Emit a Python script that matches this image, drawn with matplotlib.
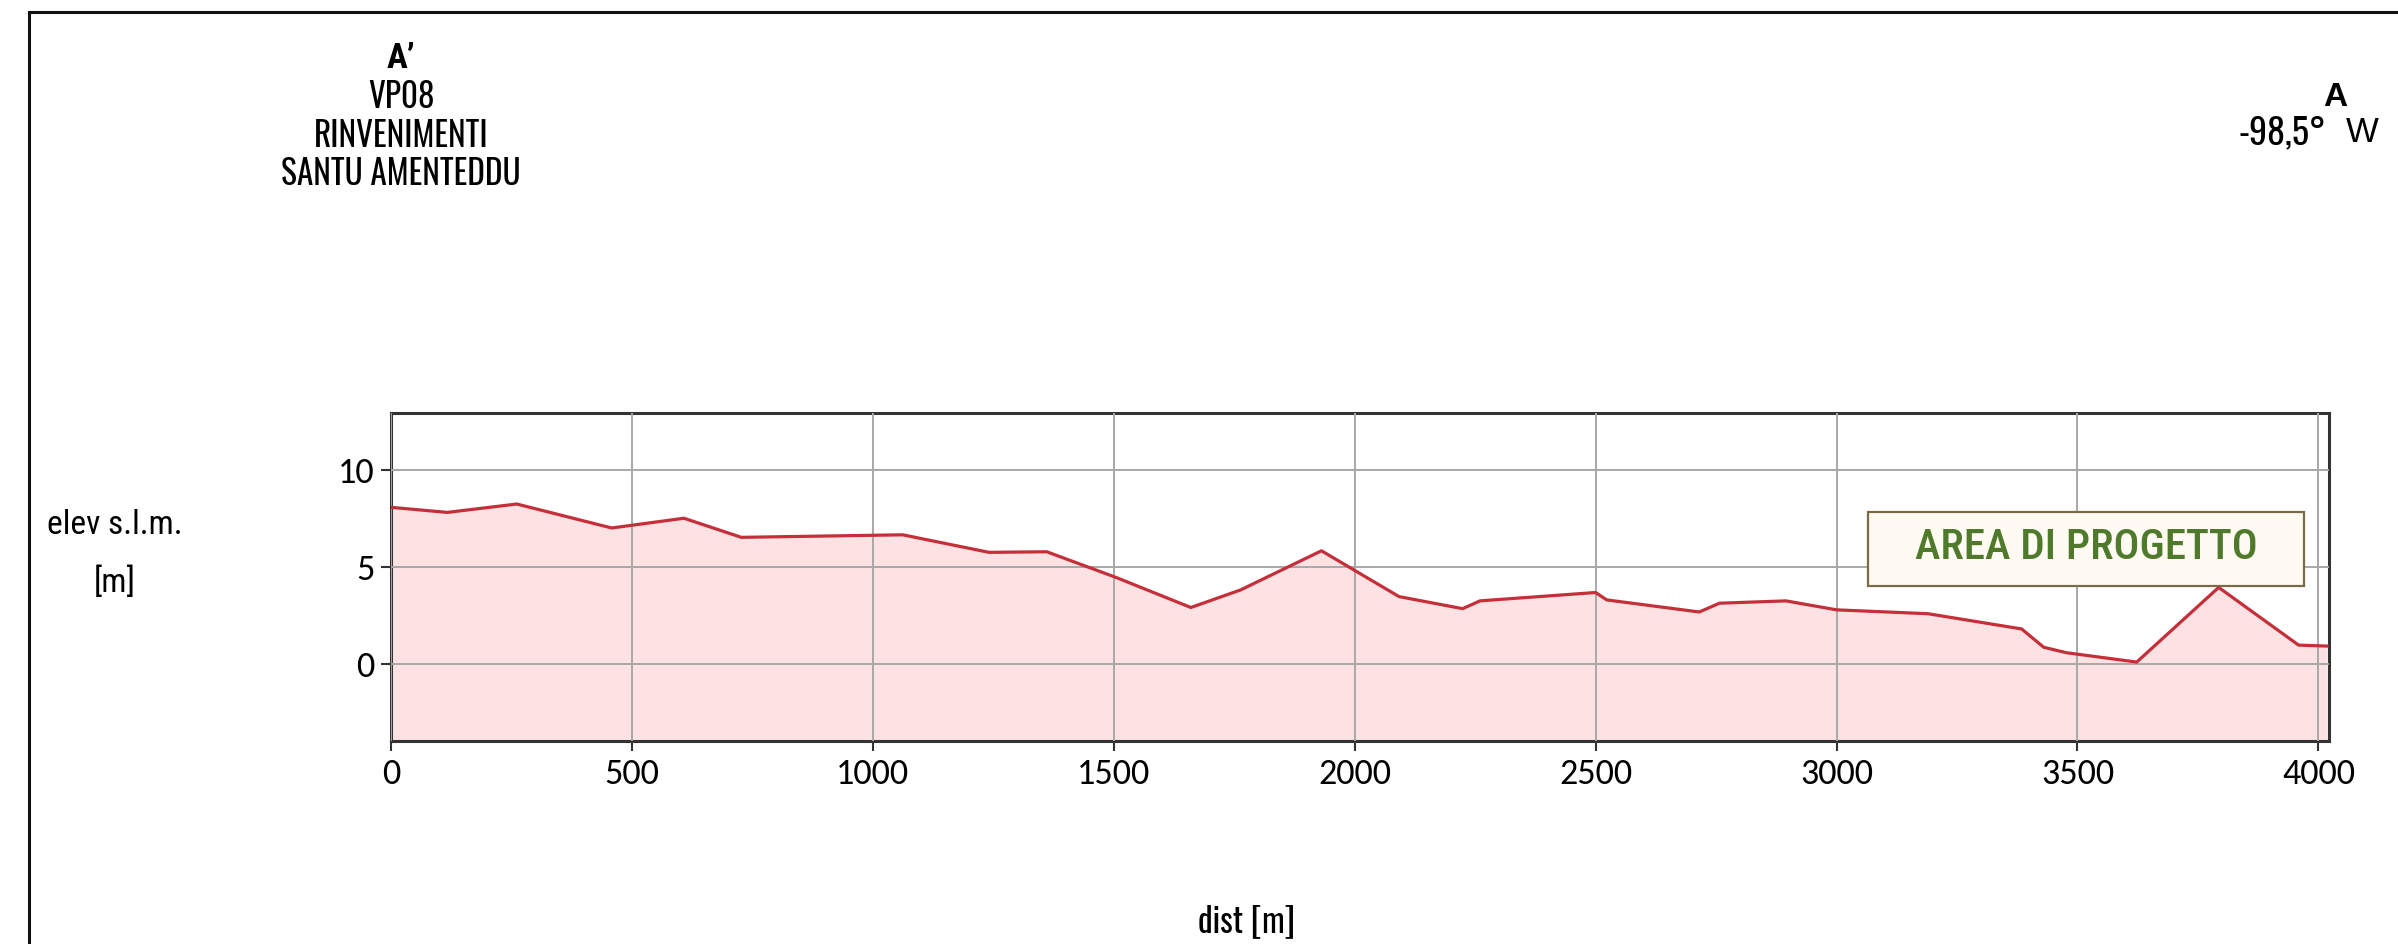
import matplotlib
matplotlib.use("Agg")
import matplotlib.pyplot as plt
from matplotlib.patches import Rectangle
from matplotlib.lines import Line2D

# ---- data ----
dist = [0, 117, 261, 458, 608, 727, 1062, 1241, 1361, 1505, 1660, 1763, 1931,
        2092, 2224, 2260, 2500, 2523, 2715, 2757, 2895, 3000, 3190, 3384, 3430,
        3477, 3623, 3793, 3959, 4018]
elev = [8.06, 7.8, 8.23, 7.0, 7.5, 6.52, 6.65, 5.75, 5.78, 4.46, 2.92, 3.82, 5.83,
        3.48, 2.86, 3.26, 3.69, 3.31, 2.69, 3.14, 3.26, 2.8, 2.6, 1.82, 0.88,
        0.6, 0.12, 3.95, 0.99, 0.94]
xticks = [0, 500, 1000, 1500, 2000, 2500, 3000, 3500, 4000]
yticks = [0, 5, 10]
xlim = (0, 4022)
ylim = (-3.93, 12.9)
area_label = "AREA DI PROGETTO"
area_x = (3065, 3970)
area_y = (4.0, 7.83)

W, H = 2398, 944
fig = plt.figure(figsize=(W / 100, H / 100), dpi=100)
fig.patch.set_facecolor("white")

NARROW = ["Roboto Condensed", "Archivo Narrow", "IBM Plex Sans Condensed",
          "Liberation Sans", "DejaVu Sans"]
XNARROW = ["Oswald Light", "Oswald ExtraLight", "Oswald", "Roboto Condensed",
           "Liberation Sans", "DejaVu Sans"]
TICKF = ["Carlito", "Open Sans", "DejaVu Sans"]
ARIAL = ["Liberation Sans", "DejaVu Sans"]


def fx(px):
    return px / W


def fy(py):
    return 1 - py / H


ax = fig.add_axes([fx(391), fy(741), fx(2329) - fx(391), fy(413) - fy(741)])
ax.fill_between(dist, elev, ylim[0] - 5, color="#fde2e4", zorder=1, linewidth=0)
ax.plot(dist, elev, color="#c42f3a", linewidth=2.3, zorder=3)
ax.set_xlim(*xlim)
ax.set_ylim(*ylim)
ax.set_xticks(xticks)
ax.set_yticks(yticks)
ax.grid(True, color="#a8a8a8", linewidth=1.4, zorder=2)
ax.set_axisbelow(False)
for s in ax.spines.values():
    s.set_color("#333333")
    s.set_linewidth(2.2)
ax.tick_params(direction="out", length=7, width=1.5, color="#333333",
               labelsize=26, pad=5)
for lab in ax.get_xticklabels() + ax.get_yticklabels():
    lab.set_family(TICKF)

# project area box
ax.add_patch(Rectangle((area_x[0], area_y[0]), area_x[1] - area_x[0],
                       area_y[1] - area_y[0], facecolor="#fffaf2",
                       edgecolor="#7a6a45", linewidth=1.6, zorder=4))
ax.text((area_x[0] + area_x[1]) / 2, (area_y[0] + area_y[1]) / 2 + 0.1, area_label,
        ha="center", va="center", color="#4f7a2c", fontsize=31,
        fontweight="medium", family=NARROW, zorder=5)

# figure texts
fig.text(fx(401), fy(58), "A’", ha="center", va="center", fontsize=25,
         fontweight="bold", family=NARROW)
fig.text(fx(401), fy(97), "VP08", ha="center", va="center", fontsize=24,
         fontweight="light", family=XNARROW)
fig.text(fx(401), fy(136), "RINVENIMENTI", ha="center", va="center", fontsize=24,
         fontweight="light", family=XNARROW)
fig.text(fx(401), fy(174), "SANTU AMENTEDDU", ha="center", va="center", fontsize=24,
         fontweight="light", family=XNARROW)

fig.text(fx(2335), fy(98), "A", ha="center", va="center", fontsize=24,
         fontweight="bold", family=ARIAL)
fig.text(fx(2326), fy(133), "-98,5°", ha="right", va="center", fontsize=26,
         fontweight="light", family=XNARROW)
fig.text(fx(2362), fy(133), "W", ha="center", va="center", fontsize=25, family=ARIAL)

fig.text(fx(115), fy(525), "elev s.l.m.", ha="center", va="center", fontsize=24, family=NARROW)
fig.text(fx(115), fy(583), "[m]", ha="center", va="center", fontsize=24, family=NARROW)
fig.text(fx(1246), fy(921), "dist [m]", ha="center", va="center", fontsize=24,
         fontweight="light", family=XNARROW)

# page frame (left and top edges)
fig.add_artist(Line2D([fx(29), fx(29)], [0, fy(12)], transform=fig.transFigure,
                      color="#111111", linewidth=2.2))
fig.add_artist(Line2D([fx(29), 1], [fy(12), fy(12)], transform=fig.transFigure,
                      color="#111111", linewidth=2.2))

fig.savefig("out.png", dpi=100, facecolor="white")
